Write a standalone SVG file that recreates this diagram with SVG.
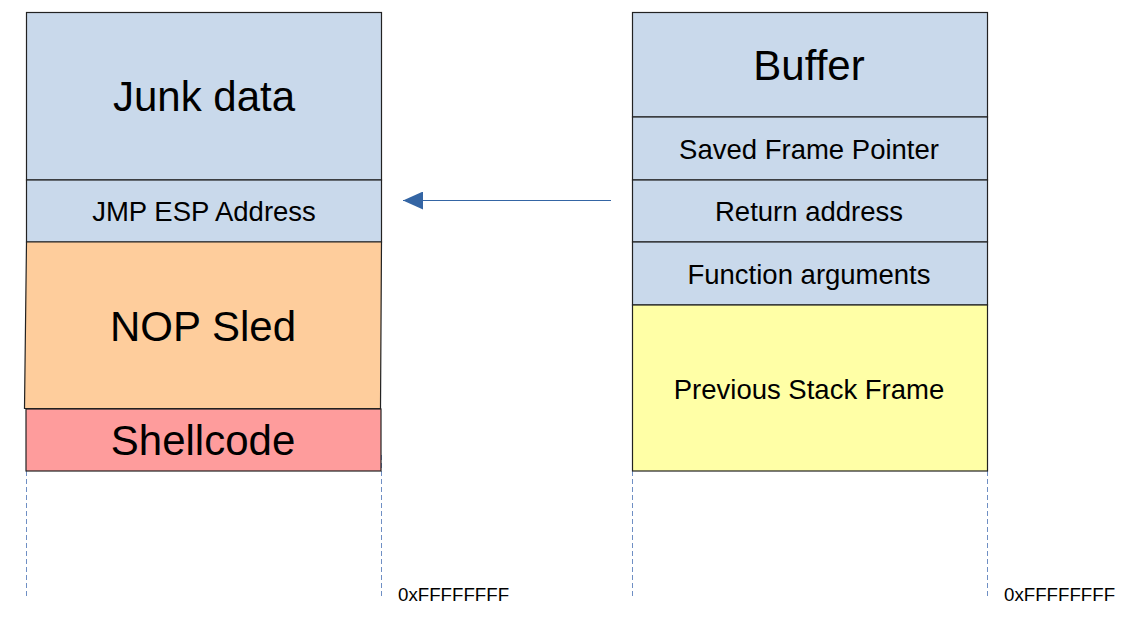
<svg xmlns="http://www.w3.org/2000/svg" width="1132" height="630" viewBox="0 0 1132 630">
<style>
.box{stroke:#222;stroke-width:1.2}
.blue{fill:#c9d9eb}
.t{font-family:"Liberation Sans",Arial,sans-serif;fill:#000;text-anchor:middle;dominant-baseline:central}
.big{font-size:42px}
.mid{font-size:27.5px}
.addr{font-family:"Liberation Sans",Arial,sans-serif;font-size:18.7px;fill:#000}
.dash{stroke:#6f8fc4;stroke-width:1;stroke-dasharray:5,3;fill:none}
</style>
<defs>
<marker id="ah" markerWidth="20" markerHeight="18" refX="20" refY="9" orient="auto" markerUnits="userSpaceOnUse" viewBox="0 0 20 18">
<path d="M0,0 L20,9 L0,18 z" fill="#3465a4"/>
</marker>
</defs>
<rect width="1132" height="630" fill="#fff"/>
<g id="guides">
<line class="dash" x1="26.5" y1="471" x2="26.5" y2="598"/>
<line class="dash" x1="381.5" y1="455" x2="381.5" y2="598"/>
<line class="dash" x1="632.5" y1="471" x2="632.5" y2="598"/>
<line class="dash" x1="987.5" y1="471" x2="987.5" y2="598"/>
</g>
<g id="junk"><rect class="box blue" x="26.5" y="12.5" width="355" height="167.5"/><text class="t big" x="204" y="96">Junk data</text></g>
<g id="jmp"><rect class="box blue" x="26.5" y="180" width="355" height="62"/><text class="t mid" x="204" y="211">JMP ESP Address</text></g>
<g id="nop"><path class="box" fill="#fecd9c" d="M26.5,242 L381.5,242 L380.5,408.5 L24.5,408.5 Z"/><text class="t big" x="203" y="326">NOP Sled</text></g>
<g id="shell"><rect class="box" fill="#fe9c9c" x="26" y="409" width="355" height="62"/><text class="t big" x="203" y="440">Shellcode</text></g>
<g id="buffer"><rect class="box blue" x="632.5" y="12.5" width="355" height="104.5"/><text class="t big" x="809" y="65">Buffer</text></g>
<g id="sfp"><rect class="box blue" x="632.5" y="117" width="355" height="63"/><text class="t mid" x="809" y="149">Saved Frame Pointer</text></g>
<g id="ret"><rect class="box blue" x="632.5" y="180" width="355" height="62"/><text class="t mid" x="809" y="211">Return address</text></g>
<g id="args"><rect class="box blue" x="632.5" y="242" width="355" height="63"/><text class="t mid" x="809" y="274">Function arguments</text></g>
<g id="prev"><rect class="box" fill="#ffffa6" x="632.5" y="305" width="355" height="166"/><text class="t mid" x="809" y="389">Previous Stack Frame</text></g>
<g id="connectors">
<line x1="611" y1="200.5" x2="403" y2="200.5" stroke="#3465a4" stroke-width="1.2" marker-end="url(#ah)"/>
</g>
<text class="addr" x="398" y="601">0xFFFFFFFF</text>
<text class="addr" x="1004" y="601">0xFFFFFFFF</text>
</svg>
